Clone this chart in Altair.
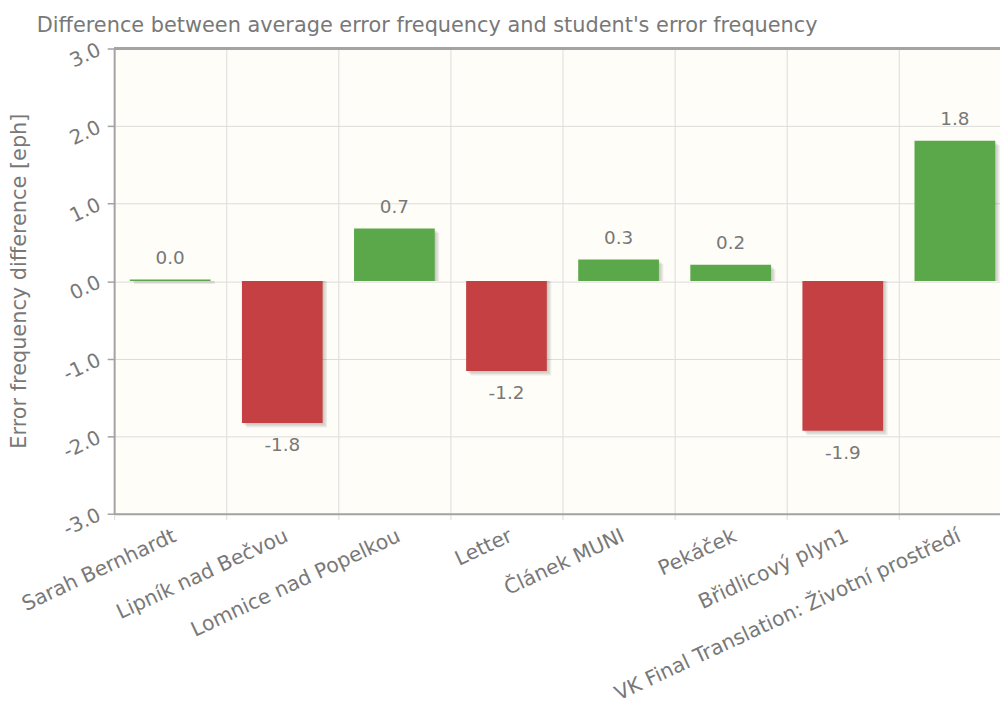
import altair as alt
import pandas as pd

categories = [
    "Sarah Bernhardt",
    "Lipník nad Bečvou",
    "Lomnice nad Popelkou",
    "Letter",
    "Článek MUNI",
    "Pekáček",
    "Břidlicový plyn1",
    "VK Final Translation: Životní prostředí",
]
values = [0.02, -1.83, 0.68, -1.16, 0.28, 0.21, -1.93, 1.81]
y_ticks = [-3, -2, -1, 0, 1, 2, 3]

title_text = "Difference between average error frequency and student's error frequency"
y_title = "Error frequency difference [eph]"

GREEN = "#5aa84a"
RED = "#c54042"
GRID = "#dcdcdc"
BORDER = "#a3a3a3"
TEXT = "#787878"
FONT = "DejaVu Sans"


def fmt(v):
    s = f"{abs(v):.1f}"
    return ("-" + s) if v < 0 else s


df = pd.DataFrame({
    "cat": categories,
    "val": values,
    "label": [fmt(v) for v in values],
    "sign": ["pos" if v >= 0 else "neg" for v in values],
})

x_enc = alt.X(
    "cat:N",
    sort=categories,
    scale=alt.Scale(range=[0, 904], paddingInner=0, paddingOuter=0),
    axis=alt.Axis(
        title=None,
        labelAngle=-25,
        labelAlign="right",
        labelBaseline="top",
        labelPadding=6,
        labelFontSize=20.5,
        labelColor=TEXT,
        labelFont=FONT,
        labelLimit=1000,
        labelOverlap=False,
        labelBound=False,
        tickBand="extent",
        grid=True,
        gridColor=GRID,
        gridWidth=1,
        tickColor=GRID,
        tickSize=6,
        domainColor=BORDER,
        domainWidth=2,
    ),
)

y_enc = alt.Y(
    "val:Q",
    scale=alt.Scale(domain=[-3, 3], nice=False, zero=False),
    axis=alt.Axis(
        values=y_ticks,
        labelExpr="datum.value < 0 ? '-' + format(-datum.value, '.1f') : format(datum.value, '.1f')",
        labelAngle=-25,
        labelAlign="right",
        labelBaseline="middle",
        labelPadding=8,
        labelFontSize=20,
        labelColor=TEXT,
        labelFont=FONT,
        tickSize=7,
        tickColor=BORDER,
        tickWidth=1.5,
        domainColor=BORDER,
        domainWidth=2,
        grid=True,
        gridColor=GRID,
        gridWidth=1,
        title=y_title,
        titleFont=FONT,
        titleFontSize=21,
        titleFontWeight="normal",
        titleColor=TEXT,
        titleAngle=-90,
        titleAlign="center",
        titleBaseline="middle",
        titleX=-95,
        titleY=234,
    ),
)

base = alt.Chart(df).encode(x=x_enc, y=y_enc, y2=alt.datum(0))

shadows = [
    base.mark_bar(width=alt.RelativeBandSize(0.72), xOffset=o, yOffset=o, color="#000000", opacity=0.07)
    for o in (1.5, 3, 4.5)
]

bars = base.mark_bar(width=alt.RelativeBandSize(0.72)).encode(
    color=alt.Color("sign:N", scale=alt.Scale(domain=["pos", "neg"], range=[GREEN, RED]), legend=None)
)

txt_pos = alt.Chart(df).transform_filter("datum.val >= 0").mark_text(
    dy=-22, fontSize=18.5, color=TEXT, font=FONT, baseline="middle"
).encode(x=alt.X("cat:N", sort=categories), y="val:Q", text="label:N")

txt_neg = alt.Chart(df).transform_filter("datum.val < 0").mark_text(
    dy=22, fontSize=18.5, color=TEXT, font=FONT, baseline="middle"
).encode(x=alt.X("cat:N", sort=categories), y="val:Q", text="label:N")

top_border = alt.Chart(df).mark_rule(color=BORDER, strokeWidth=2).encode(y=alt.datum(3))

chart = alt.layer(*shadows, bars, txt_pos, txt_neg, top_border).properties(
    width=893,
    height=469,
    title=alt.TitleParams(
        text=title_text,
        anchor="start",
        frame="group",
        dx=-78,
        offset=4,
        fontSize=21,
        fontWeight="normal",
        color=TEXT,
        font=FONT,
    ),
    autosize=alt.AutoSizeParams(type="none"),
    padding={"left": 107, "top": 38, "right": 0, "bottom": 192},
    background="#ffffff",
).configure_view(stroke=None, fill="#fffdf7")

chart.save("out.html", embed_options={"renderer": "svg", "actions": False})
